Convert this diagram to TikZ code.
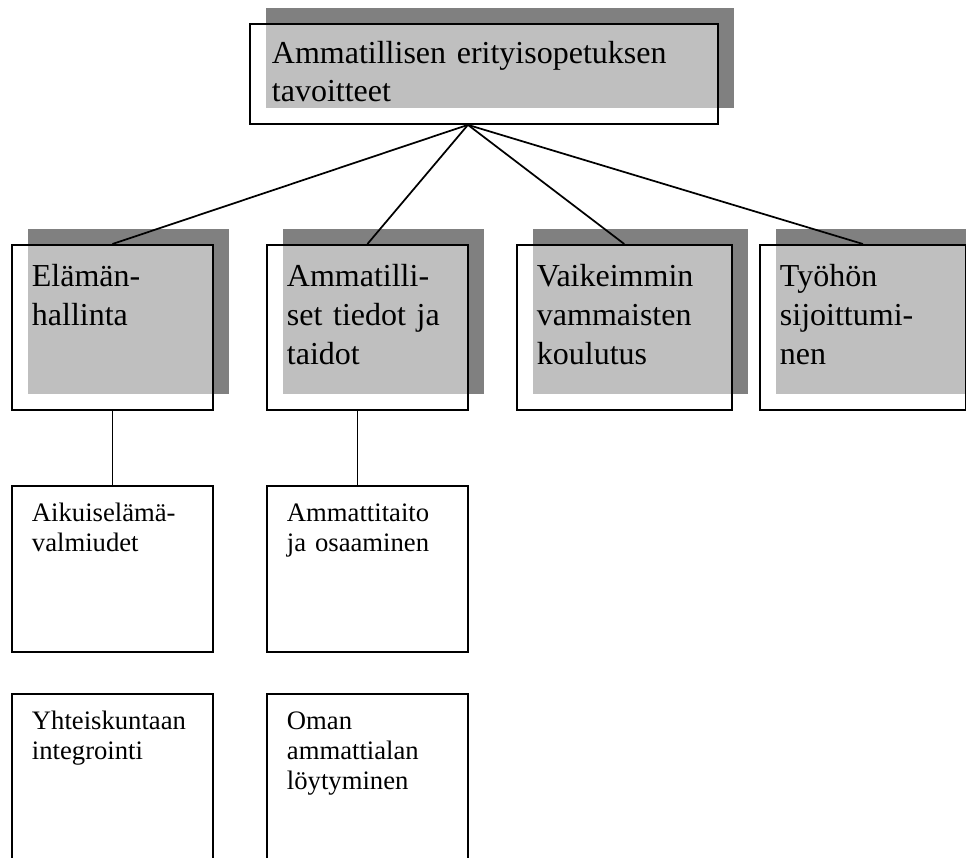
\documentclass[tikz,border=0pt]{standalone}
\usepackage{fontspec}
\setmainfont{Liberation Serif}
\usetikzlibrary{shadows}

\tikzset{
  goal/.style={draw, line width=1.4pt, anchor=north west, align=left,
    fill=white, fill opacity=.5, text opacity=1,
    drop shadow={shadow xshift=12pt, shadow yshift=12pt, fill=black!50, opacity=1},
    inner xsep=15pt, inner ysep=10pt, text width=#1,
    font=\fontsize{24pt}{29pt}\selectfont, text height=21.5pt, text depth=82.25pt},
  goal/.default=120.75pt,
  subgoal/.style={draw, line width=1.4pt, anchor=north west, align=left, fill=white,
    inner xsep=15pt, inner ysep=10pt, text width=120.75pt,
    font=\fontsize{20pt}{22.5pt}\selectfont, text height=17pt, text depth=87.5pt},
  link/.style={line width=1.3pt}
}

\begin{document}
\begin{tikzpicture}[x=0.75pt, y=-0.75pt]
        \useasboundingbox (0,0) rectangle (966,857);
        \node[goal=318pt, inner xsep=16.5pt, inner ysep=8pt, text height=22pt, text depth=37pt,
              font=\fontsize{24pt}{28pt}\selectfont] (top) at (249,23)
              {Ammatillisen erityisopetuksen\\tavoitteet};
        \node[goal] (elama) at (11,244) {Elämän-\\hallinta};
        \node[goal] (ammat) at (266,244) {Ammatilli-\\set tiedot ja\\taidot};
        \node[goal=131pt] (vaikein) at (516,244) {Vaikeimmin\\vammaisten\\koulutus};
        \node[goal=124.5pt] (tyo) at (759,244) {Työhön\\sijoittumi-\\nen};
        \node[subgoal] (aikuis) at (11,485) {Aikuiselämä-\\valmiudet};
        \node[subgoal] (taito) at (266,485) {Ammattitaito\\ja osaaminen};
        \node[subgoal, text depth=92pt] (yhteis) at (11,693) {Yhteiskuntaan\\integrointi};
        \node[subgoal, text depth=92pt] (loyty) at (266,693) {Oman\\ammattialan\\löytyminen};
        \coordinate (hub) at ([xshift=-12pt]top.south);
        \foreach \n in {elama, ammat, vaikein, tyo}
          \draw[link] (hub) -- (\n.north);
        \draw[link] (elama.south) -- (aikuis.north);
        \draw[link] ([xshift=-7.5pt]ammat.south) -- ([xshift=-7.5pt]taito.north);
      \end{tikzpicture}
\end{document}
